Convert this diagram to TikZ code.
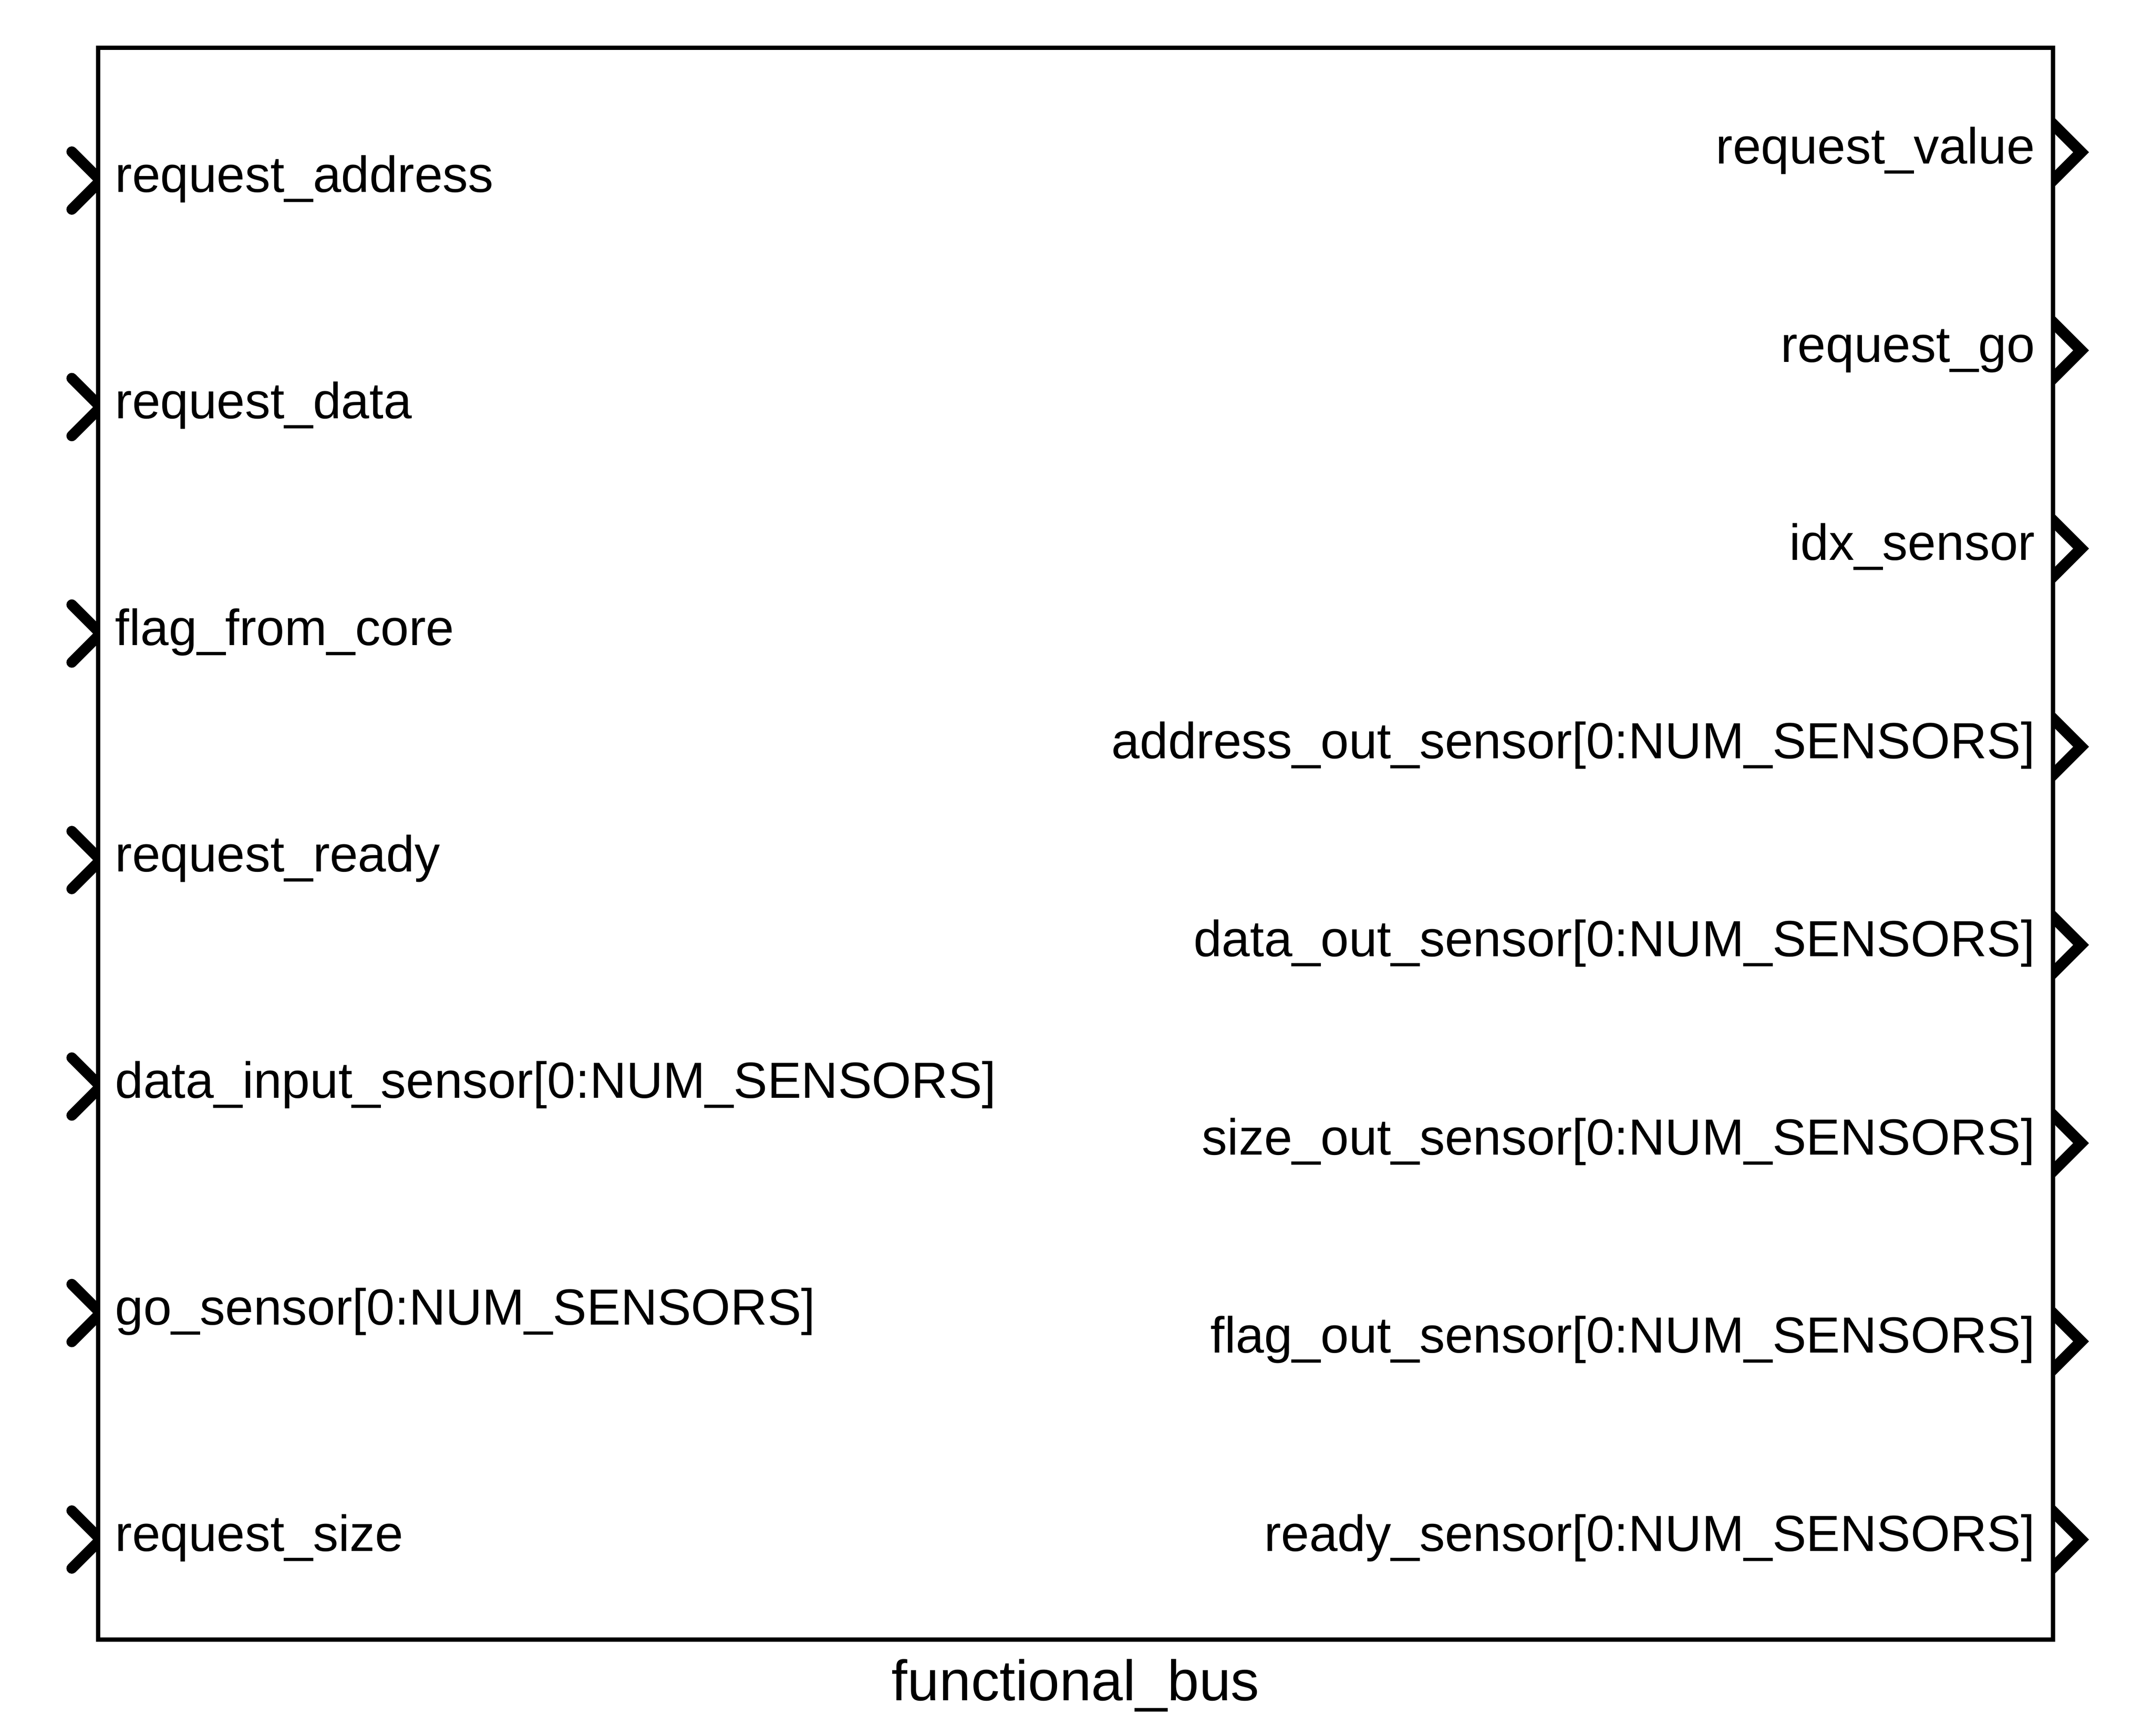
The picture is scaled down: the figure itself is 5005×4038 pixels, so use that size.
\documentclass[tikz,border=0pt]{standalone}
\usepackage{fontspec}
\setmainfont{Liberation Sans}
\begin{document}
\begin{tikzpicture}[x=0.01cm,y=-0.01cm,
  lbl/.style={inner sep=0pt, outer sep=0pt, font=\fontsize{33.6pt}{40pt}\selectfont},
  ttl/.style={inner sep=0pt, outer sep=0pt, font=\fontsize{37.7pt}{45pt}\selectfont},
  chevin/.style={line width=0.25cm, line cap=round, line join=miter},
  chevout/.style={line width=0.26cm, line cap=butt, line join=miter},
  blockbox/.style={draw, line width=0.1cm, inner sep=0pt, outer sep=0pt}]
\useasboundingbox (0,0) rectangle (5005,4038);
% input chevrons
\begin{scope}
  \clip (0,0) rectangle (230,4038);
  \foreach \i in {0,...,6} {
    \pgfmathsetmacro\yy{420+\i*526.83}
    \draw[chevin] (167,\yy-67) -- (234,\yy) -- (167,\yy+67);
  }
\end{scope}
% output chevrons
\begin{scope}
  \clip (4773,0) rectangle (5005,4038);
  \foreach \i in {0,...,7} {
    \pgfmathsetmacro\yy{354+\i*461}
    \draw[chevout] (4706,\yy-134) -- (4840,\yy) -- (4706,\yy+134);
  }
\end{scope}
% block
\node[blockbox, minimum width=45.43cm, minimum height=37.01cm] (blk) at (2501.5,1962.5) {};
% input labels
\node[lbl, anchor=base west] (in1) at (268,447) {request\_address};
\node[lbl, anchor=base west] (in2) at (268,973.8) {request\_data};
\node[lbl, anchor=base west] (in3) at (268,1500.7) {flag\_from\_core};
\node[lbl, anchor=base west] (in4) at (268,2027.5) {request\_ready};
\node[lbl, anchor=base west] (in5) at (268,2554.3) {data\_input\_sensor[0:NUM\_SENSORS]};
\node[lbl, anchor=base west] (in6) at (268,3081.2) {go\_sensor[0:NUM\_SENSORS]};
\node[lbl, anchor=base west] (in7) at (268,3608) {request\_size};
% output labels
\node[lbl, anchor=base east] (out1) at (4733,381) {request\_value};
\node[lbl, anchor=base east] (out2) at (4733,842) {request\_go};
\node[lbl, anchor=base east] (out3) at (4733,1303) {idx\_sensor};
\node[lbl, anchor=base east] (out4) at (4733,1764) {address\_out\_sensor[0:NUM\_SENSORS]};
\node[lbl, anchor=base east] (out5) at (4733,2225) {data\_out\_sensor[0:NUM\_SENSORS]};
\node[lbl, anchor=base east] (out6) at (4733,2686) {size\_out\_sensor[0:NUM\_SENSORS]};
\node[lbl, anchor=base east] (out7) at (4733,3147) {flag\_out\_sensor[0:NUM\_SENSORS]};
\node[lbl, anchor=base east] (out8) at (4733,3608) {ready\_sensor[0:NUM\_SENSORS]};
% title
\node[ttl, anchor=base] (title) at (2501.5,3955) {functional\_bus};
\end{tikzpicture}
\end{document}
